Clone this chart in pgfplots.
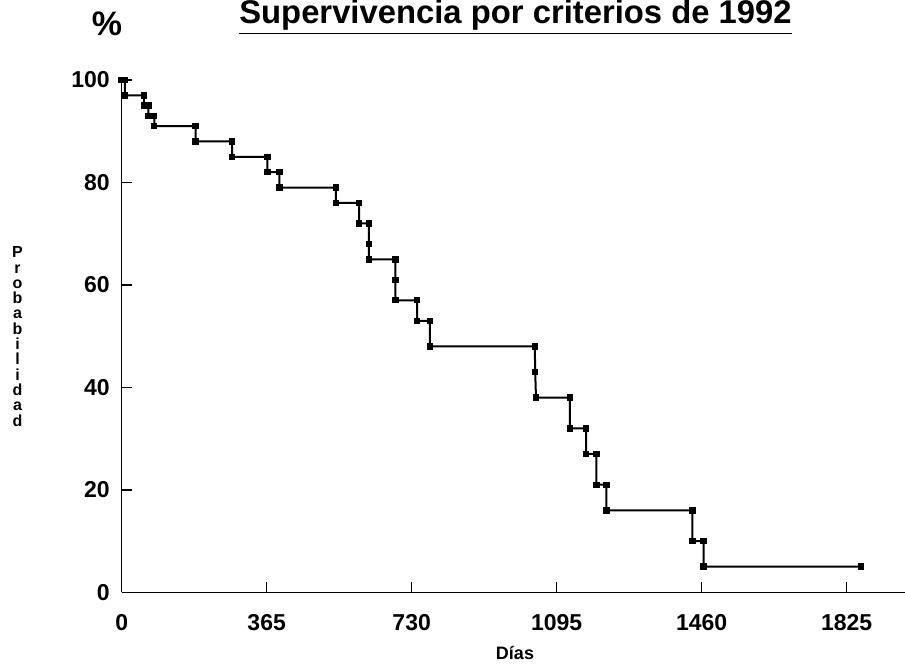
\documentclass[border=0pt]{standalone}
\usepackage{fontspec}
\setmainfont{Liberation Sans}
\usepackage{pgfplots}
\pgfplotsset{compat=1.18}

\begin{document}
\begin{tikzpicture}
\begin{axis}[
    scale only axis,
    width=391.65pt, height=256.15pt,
    xmin=0, xmax=1972, ymin=0, ymax=100,
    axis x line=bottom, axis y line=left,
    axis line style={-, line width=0.8pt},
    xtick={0,365,730,1095,1460,1825},
    ytick={0,20,40,60,80,100},
    tick align=inside,
    major tick length=5pt,
    tick style={line width=0.8pt, black},
    /pgf/number format/1000 sep={},
    /pgf/number format/assume math mode=true,
    scaled ticks=false,
    ticklabel style={font=\fontsize{11.5}{13}\selectfont\bfseries},
    xticklabel style={yshift=-7.5pt},
    yticklabel style={xshift=-2.5pt},
    clip=false,
]
\addplot[black, line width=1pt, mark=square*, mark size=1.1pt] coordinates {
  (0,100) (8,100) (8,97) (56,97) (56,95) (67,95) (67,93) (82,93) (82,91)
  (186,91) (186,88) (278,88) (278,85) (367,85) (367,82) (397,82) (397,79)
  (539,79) (539,76) (598,76) (598,72) (622,72) (622,68) (622,65)
  (689,65) (689,61) (689,57) (744,57) (744,53) (776,53) (776,48)
  (1040,48) (1041,43) (1043,38) (1128,38) (1128,32) (1169,32) (1169,27)
  (1195,27) (1195,21) (1220,21) (1220,16) (1437,16) (1437,10)
  (1465,10) (1465,5) (1861,5)
};
\end{axis}
\node[anchor=base, font=\fontsize{16.4}{18}\selectfont\bfseries] at (196.9pt,284.5pt) {\underline{Supervivencia por criterios de 1992}};
\node[font=\fontsize{17}{19}\selectfont\bfseries] at (-7.35pt,284.15pt) {\%};
\node[align=center, font=\fontsize{8}{7.65}\selectfont\bfseries] at (-52.1pt,127.9pt) {P\\r\\o\\b\\a\\b\\i\\l\\i\\d\\a\\d};
\node[font=\fontsize{9}{10}\selectfont\bfseries] at (196.65pt,-30.35pt) {Días};
\pgfresetboundingbox
\useasboundingbox (-60.85pt,-36.85pt) rectangle (391.65pt,296.15pt);
\end{tikzpicture}
\end{document}
